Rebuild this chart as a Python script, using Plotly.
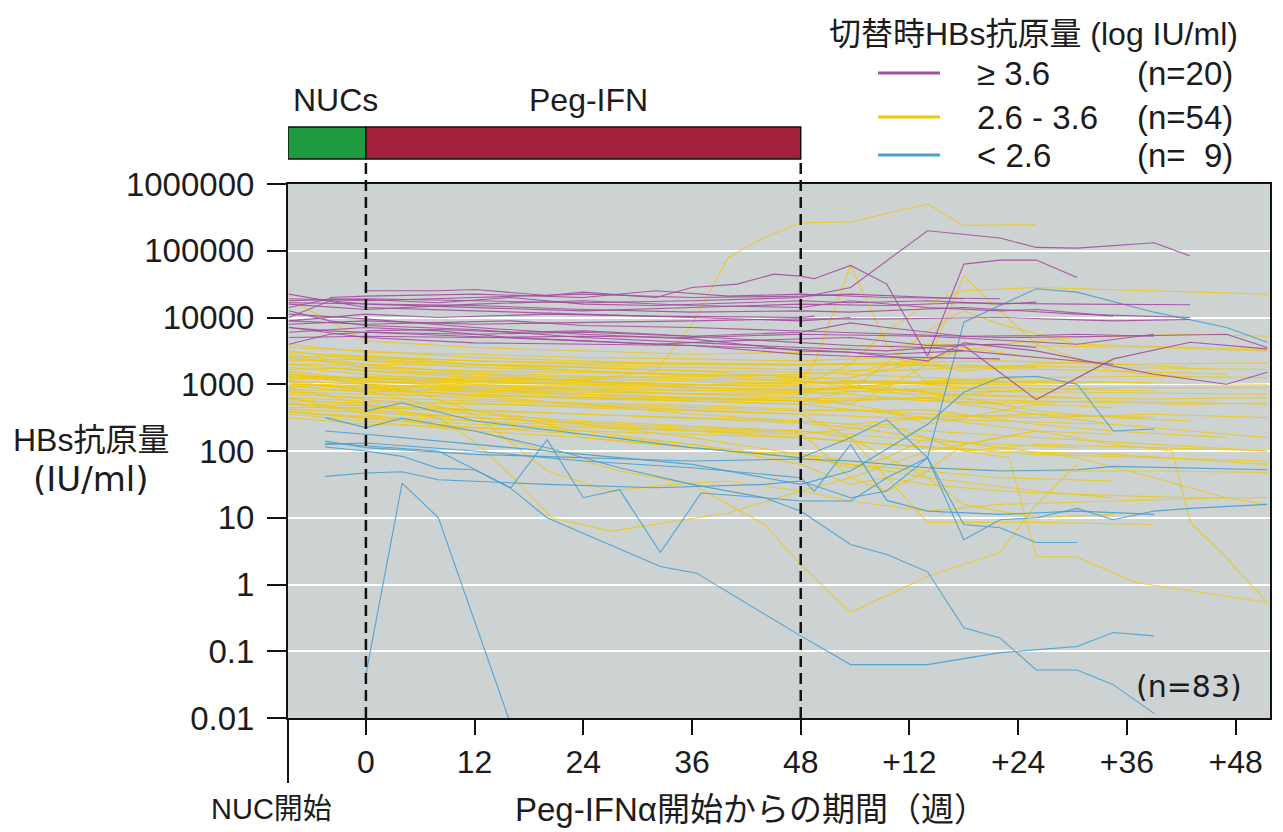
import plotly.graph_objects as go

# ---------------- data ----------------
WEEK_TICKS = [0, 12, 24, 36, 48, 60, 72, 84, 96]
WEEK_TICK_LABELS = ["0", "12", "24", "36", "48", "+12", "+24", "+36", "+48"]
Y_TICKS = [0.01, 0.1, 1, 10, 100, 1000, 10000, 100000, 1000000]
Y_TICK_LABELS = ["0.01", "0.1", "1", "10", "100", "1000", "10000", "100000", "1000000"]
GROUP_LABELS = ["≥ 3.6", "2.6 - 3.6", "< 2.6"]
GROUP_N = ["(n=20)", "(n=54)", "(n=\u00a0\u00a09)"]
PHASES = ["NUCs", "Peg-IFN"]
PHASE_WEEKS = [(-8.6, 0), (0, 48)]
TOTAL_N = "(n=83)"

# each series: (week, log10 HBsAg IU/ml) points
PURPLE = [
    [(0,4.40),(8,4.40),(12,4.42),(20,4.33),(24,4.38),(32,4.30),(36,4.45),(41,4.50),(45,4.65),(48,4.62),(49.5,4.58),(53.5,4.78),(57.5,4.50),(62,3.42),(66,4.80),(70,4.86),(74,4.86),(78.5,4.60)],
    [(-8.5,4.25),(-4,4.27),(0,4.28),(12,4.25),(24,4.22),(36,4.25),(48,4.30),(53.5,4.45),(62,5.30),(70,5.19),(74,5.05),(78.5,5.04),(87,5.12),(91,4.92)],
    [(-8.5,4.15),(-4,4.28),(0,4.27),(8,4.22),(16,4.30),(24,4.20),(32,4.18),(40,4.22),(48,4.25),(53.5,4.22),(62,4.25),(70,4.20),(74,4.23)],
    [(-8.5,4.00),(-4,4.25),(0,4.20),(12,4.15),(24,4.10),(36,4.15),(48,4.20),(57.5,4.18),(66,4.22),(78.5,4.20),(91,4.19)],
    [(-8.5,4.20),(0,4.12),(12,4.20),(24,4.25),(36,4.18),(48,4.15),(53.5,4.25),(62,4.15),(70,4.10),(74,4.12),(82.5,4.02)],
    [(-8.5,3.95),(0,4.05),(8,4.00),(20,4.05),(32,4.02),(48,4.00),(49.5,4.02)],
    [(-8.5,3.90),(0,3.95),(12,3.90),(24,3.92),(36,3.95),(48,3.98),(57.5,3.98),(70,4.00),(82.5,3.95),(91,3.97)],
    [(-8.5,3.85),(-4,3.80),(0,3.78),(12,3.75),(24,3.78),(36,3.72),(48,3.78),(53.5,3.92),(57.5,3.85),(66,3.72),(74,3.73),(78.5,3.75),(87,3.72)],
    [(-8.5,3.78),(0,3.85),(8,3.80),(16,3.70),(24,3.65),(32,3.60),(40,3.65),(48,3.68),(53.5,3.70),(62,3.58),(70,3.60),(74,3.55)],
    [(-8.5,4.10),(-4,3.95),(0,3.88),(12,3.82),(24,3.70),(36,3.62),(48,3.55),(57.5,3.50),(66,3.58),(74,2.77),(82.5,3.38),(91,3.63),(99.5,3.53)],
    [(-8.5,4.05),(0,3.98),(12,3.85),(24,3.75),(36,3.68),(48,3.50),(53.5,3.48),(62,3.35),(66,3.62),(74,3.50),(87,3.15),(95,3.00),(99.5,3.18)],
    [(-8.5,3.70),(0,3.72),(12,3.70),(24,3.72),(36,3.70),(48,3.75),(62,3.72),(78.5,3.60),(87,3.75)],
    [(-4,4.30),(0,4.32),(12,4.35),(24,4.30),(32,4.40),(40,4.32),(48,4.35),(57.5,4.30),(70,4.28)],
    [(-8.5,4.28),(0,4.25),(12,4.30),(24,4.35),(36,4.30),(48,4.32),(53.5,4.35),(66,4.28)],
    [(-8.5,3.95),(0,3.90),(16,3.95),(24,3.88),(36,3.85),(48,3.80),(57.5,3.75),(70,3.70),(82.5,3.72),(95,3.75),(99.5,3.55)],
    [(-8.5,4.35),(0,4.15),(12,4.10),(24,4.05),(36,4.00),(48,3.95),(53.5,4.00)],
    [(-8.5,3.85),(0,3.70),(12,3.62),(24,3.60),(36,3.58),(48,3.52),(57.5,3.45),(66,3.50)],
    [(0,3.80),(8,3.82),(16,3.78),(24,3.80),(32,3.75),(48,3.62),(53.5,3.58),(62,3.55),(74,3.40),(82.5,3.30)],
    [(-8.5,4.22),(0,4.20),(12,4.18),(24,4.12),(36,4.08),(48,4.10),(53.5,4.08),(66,4.15),(78.5,4.05),(91,4.00)],
    [(-8.5,3.60),(-4,3.75),(0,3.78),(12,3.72),(24,3.65),(36,3.58),(48,3.45),(53.5,3.42),(62,3.40),(70,3.38)],
]

YELLOW = [
    [(-8.5,4.28),(-4,3.95),(0,3.65),(12,3.55),(24,3.50),(36,3.45),(48,3.48),(53.5,3.55),(62,3.60),(74,3.58),(87,3.55),(99.5,3.50)],
    [(-8.5,3.55),(0,3.50),(12,3.40),(24,3.35),(36,3.30),(48,3.30),(57.5,3.32),(70,3.35),(82.5,3.30),(99.5,3.32)],
    [(-8.5,3.30),(0,3.20),(12,3.10),(24,3.05),(32,3.20),(36,3.90),(40,4.90),(44,5.20),(48,5.42),(53.5,5.43),(62,5.70),(66,5.38),(74,5.39)],
    [(-8.5,3.40),(0,3.42),(12,3.30),(24,3.25),(36,3.20),(48,3.10),(49.5,3.30),(53.5,4.78),(57.5,3.60),(62,3.00),(70,2.90)],
    [(-8.5,3.20),(0,3.05),(12,2.95),(24,2.90),(36,2.85),(48,2.80),(53.5,2.70),(57.5,2.95),(62,3.30),(66,4.62),(70,4.10),(74,3.60),(82.5,3.20),(91,3.10)],
    [(-8.5,2.95),(-4,3.00),(0,3.02),(12,3.00),(24,3.02),(36,3.00),(48,3.02),(57.5,3.05),(70,3.00),(82.5,3.02),(99.5,3.00)],
    [(-8.5,3.10),(0,3.05),(12,3.02),(24,3.00),(36,2.98),(48,3.00),(53.5,3.02),(62,3.00),(74,3.02)],
    [(-8.5,3.00),(0,2.95),(12,2.90),(24,2.85),(36,2.80),(48,2.78),(57.5,2.80),(74,2.75),(91,2.70),(99.5,2.72)],
    [(-4,3.25),(0,3.20),(12,3.15),(24,3.05),(36,2.95),(48,2.90),(53.5,2.95),(66,2.85),(78.5,2.80)],
    [(-8.5,3.45),(0,3.30),(12,3.15),(24,3.10),(36,3.12),(48,3.15),(53.5,3.18),(62,3.40),(70,3.60),(78.5,3.70),(91,3.75),(99.5,3.72)],
    [(-8.5,3.60),(0,3.48),(12,3.45),(24,3.40),(36,3.38),(48,3.35),(57.5,3.40),(66,3.20),(74,3.30),(82.5,3.35)],
    [(-8.5,2.85),(0,2.80),(12,2.75),(24,2.70),(36,2.65),(48,2.60),(53.5,2.62),(62,2.55),(74,2.50),(87,2.55),(99.5,2.50)],
    [(-8.5,2.75),(0,2.72),(12,2.70),(24,2.68),(36,2.62),(48,2.55),(57.5,2.50),(70,2.45),(82.5,2.40)],
    [(0,2.95),(12,2.82),(24,2.70),(36,2.55),(48,2.45),(53.5,2.40),(62,2.30),(74,2.20),(87,2.10),(99.5,2.00)],
    [(-8.5,3.15),(0,3.00),(6,2.85),(12,2.60),(20,2.40),(24,2.20),(32,2.10),(40,2.00),(48,1.95),(53.5,1.85),(62,1.75),(74,1.70),(87,1.70),(99.5,1.68)],
    [(-8.5,3.05),(0,2.90),(12,2.55),(20,1.70),(27,1.40),(34,1.50),(40,1.55),(48,1.40),(53.5,1.25),(62,1.10),(70,1.20),(82.5,1.25),(95,1.30)],
    [(-8.5,2.95),(0,2.70),(8,2.50),(12,2.14),(16,1.64),(20.5,1.00),(27,0.80),(40,1.07),(48,1.40),(53.5,1.60),(62,2.00),(70,2.20),(74,2.30)],
    [(-8.5,2.70),(0,2.60),(12,2.45),(24,2.30),(36,2.10),(48,1.90),(53.5,1.80),(62,1.60),(74,1.40),(82.5,1.30)],
    [(-8.5,2.80),(0,2.55),(12,2.30),(20,2.00),(28,1.70),(36,1.50),(44,0.90),(48,0.30),(53.5,-0.42),(62,0.12),(70,0.48),(74,1.20),(78.5,1.80)],
    [(-8.5,2.60),(0,2.50),(12,2.40),(24,2.35),(36,2.30),(48,2.25),(57.5,2.40),(66,2.00),(71,1.90),(74,0.42),(78.5,0.41),(85,0.03),(99.5,-0.27)],
    [(-8.5,3.02),(0,2.92),(12,2.85),(24,2.80),(36,2.75),(48,2.70),(62,2.50),(74,2.30),(82.5,2.10),(89,2.00),(91,0.93),(95,0.40),(99.5,-0.27)],
    [(-8.5,2.58),(0,2.48),(12,2.35),(24,2.25),(36,2.10),(48,1.80),(53.5,1.50),(57.5,1.60),(62,0.93),(74,0.93),(87,0.90)],
    [(-8.5,2.90),(0,2.78),(12,2.60),(24,2.40),(36,2.20),(48,1.95),(53.5,1.75),(57.5,1.90),(62,2.20),(66,2.00),(74,2.10),(87,2.05),(99.5,2.00)],
    [(-8.5,3.25),(0,3.15),(12,3.05),(24,2.98),(36,2.95),(48,2.92),(53.5,2.95),(62,2.90),(78.5,2.88),(99.5,2.85)],
    [(-8.5,3.35),(0,3.38),(12,3.30),(24,3.28),(36,3.25),(48,3.22),(57.5,3.20),(66,3.25),(82.5,3.20),(95,3.15)],
    [(-8.5,2.65),(0,2.65),(12,2.60),(24,2.55),(36,2.50),(48,2.45),(53.5,2.40),(62,2.50),(74,2.55),(87,2.50)],
    [(-4,2.55),(0,2.52),(12,2.45),(24,2.38),(36,2.30),(48,2.20),(57.5,2.10),(70,2.00),(82.5,1.95),(99.5,1.80)],
    [(-8.5,3.50),(0,3.35),(12,3.25),(24,3.20),(36,3.15),(48,3.08),(53.5,3.10),(62,3.35),(66,3.55),(74,3.40),(82.5,3.30),(91,3.25)],
    [(-8.5,3.12),(0,3.10),(12,3.00),(24,2.92),(36,2.85),(48,2.85),(57.5,2.92),(70,2.95),(87,2.90)],
    [(-8.5,2.98),(0,2.88),(12,2.78),(24,2.72),(36,2.68),(48,2.62),(53.5,2.60),(62,2.62),(74,2.40),(82.5,2.30),(95,2.20)],
    [(0,3.12),(12,3.08),(24,3.02),(36,3.00),(48,2.98),(53.5,3.30),(57.5,3.80),(62,4.20),(66,4.40),(74,4.45),(87,4.40),(99.5,4.35)],
    [(-8.5,3.05),(0,3.00),(12,2.92),(24,2.85),(36,2.80),(48,2.75),(53.5,2.90),(62,3.80),(66,4.10),(70,3.90),(78.5,3.60),(91,3.55),(99.5,3.52)],
    [(-8.5,2.88),(0,2.85),(12,2.82),(24,2.80),(36,2.78),(48,2.75),(57.5,2.78),(70,2.72),(82.5,2.75),(99.5,2.70)],
    [(-8.5,3.22),(0,3.25),(12,3.20),(24,3.18),(36,3.15),(48,3.12),(53.5,3.05),(62,3.00),(74,3.05),(87,3.02)],
    [(0,3.35),(12,3.30),(24,3.20),(36,3.12),(48,3.05),(57.5,2.95),(66,2.80),(74,2.60),(82.5,2.50),(91,2.45)],
    [(-8.5,2.70),(0,2.68),(12,2.62),(24,2.55),(36,2.48),(48,2.42),(53.5,2.35),(62,2.20),(70,2.05),(78.5,1.90),(87,1.60),(95,1.30),(99.5,1.20)],
    [(-8.5,3.00),(0,2.98),(12,2.92),(24,2.88),(36,2.86),(48,2.88),(53.5,2.95),(62,3.05),(74,3.10),(87,3.12),(99.5,3.10)],
    [(-8.5,3.15),(0,3.08),(12,3.05),(24,3.08),(36,3.05),(48,3.00),(57.5,3.02),(66,3.00)],
    [(-8.5,2.55),(0,2.45),(12,2.30),(24,2.20),(36,2.05),(48,1.90),(53.5,1.80),(62,1.70),(70,1.60),(82.5,1.55)],
    [(-4,3.45),(0,3.42),(12,3.35),(24,3.30),(36,3.30),(48,3.28),(53.5,3.30),(62,3.28),(74,3.25)],
    [(-8.5,2.80),(0,2.75),(12,2.72),(24,2.65),(36,2.60),(48,2.55),(53.5,2.20),(57.5,1.60),(62,1.50),(70,1.40),(78.5,1.35),(91,1.30),(99.5,1.30)],
    [(-8.5,2.92),(0,2.90),(12,2.85),(24,2.78),(36,2.75),(48,2.70),(53.5,2.75),(62,2.80),(70,2.90),(82.5,2.95),(99.5,2.95)],
    [(-8.5,3.08),(0,3.10),(12,3.05),(24,3.00),(36,3.00),(48,3.02),(53.5,3.05),(66,3.00),(78.5,2.98)],
    [(-8.5,3.30),(0,3.28),(12,3.18),(24,3.12),(36,3.08),(48,3.05),(57.5,2.90),(66,2.70),(74,2.55),(82.5,2.40),(91,2.30),(99.5,2.20)],
    [(-8.5,2.62),(0,2.58),(12,2.50),(24,2.42),(36,2.35),(48,2.30),(53.5,2.25),(62,2.15),(70,2.10),(78.5,2.05)],
    [(0,2.95),(12,2.88),(24,2.82),(36,2.78),(48,2.75),(53.5,2.70),(57.5,2.60),(62,2.40),(66,2.50),(74,2.70),(82.5,2.65)],
    [(-8.5,3.42),(0,3.25),(12,3.12),(24,3.05),(36,3.00),(48,2.95),(53.5,2.90),(62,2.85),(74,2.80),(87,2.78),(99.5,2.80)],
    [(-8.5,3.18),(0,3.00),(12,2.95),(24,2.92),(36,2.90),(48,2.92),(57.5,3.00),(66,3.05),(78.5,3.02)],
    [(-8.5,2.50),(0,2.40),(12,2.35),(24,2.30),(36,2.25),(48,2.20),(53.5,2.15),(62,2.05),(74,1.95),(87,1.90),(99.5,1.85)],
    [(-8.5,3.38),(0,3.30),(12,3.28),(24,3.25),(36,3.20),(48,3.18),(53.5,3.15),(62,3.10),(70,3.05)],
    [(-8.5,2.78),(0,2.68),(12,2.55),(24,2.45),(36,2.38),(48,2.30),(53.5,2.20),(57.5,1.90),(62,1.60),(66,1.20),(74,1.00),(82.5,1.05)],
    [(0,3.05),(12,2.98),(24,2.95),(36,2.92),(48,2.88),(53.5,2.85),(62,2.75),(70,2.70)],
    [(-8.5,3.48),(0,3.40),(12,3.35),(24,3.32),(36,3.32),(48,3.30),(57.5,3.30),(70,3.28),(82.5,3.25),(99.5,3.22)],
    [(-8.5,2.72),(0,2.62),(12,2.50),(24,2.40),(36,2.32),(48,2.28),(53.5,1.60),(57.5,1.40),(62,1.70),(66,2.10),(74,2.30),(82.5,2.25)],
]

BLUE = [
    [(0,-1.35),(4,1.52),(8,1.00),(16,-2.10)],
    [(-4.5,2.06),(0,2.00),(4,1.92),(8,1.74),(12,1.72),(16,1.44),(20,1.00),(32.5,0.27),(36.5,0.17),(48,-0.77),(53.5,-1.20),(62,-1.20),(70,-1.02),(78.5,-0.93),(82.5,-0.72),(87,-0.77)],
    [(-4.5,2.50),(0,2.35),(4,2.49),(12,2.30),(20,2.05),(28,1.75),(36,1.50),(44,1.30),(48,1.10),(53.5,0.60),(57.5,0.45),(62,0.19),(66,-0.65),(70,-0.80),(74,-1.28),(78.5,-1.28),(82.5,-1.50),(87,-1.93)],
    [(-4.5,2.12),(0,2.08),(8,2.00),(16,1.45),(20,2.17),(24,1.30),(28,1.42),(32.5,0.48),(37,1.37),(44,1.30),(48,1.25),(53.5,1.25),(57.5,1.60),(62,1.90),(66,0.67),(70,0.97),(74,1.00),(78.5,1.14),(82.5,0.97),(87,1.10),(91,1.14),(99.5,1.20)],
    [(-4.5,1.62),(0,1.67),(4,1.69),(8,1.57),(20,1.50),(32,1.45),(44,1.50),(48,1.55),(53.5,1.30),(57.5,1.40),(62,1.90),(66,3.93),(74,4.43),(78.5,4.38),(87,4.08),(95,3.85),(99.5,3.63)],
    [(-4.5,2.15),(0,2.05),(12,1.95),(24,1.90),(36,1.85),(48,1.88),(53.5,1.85),(62,1.75),(70,1.70),(78.5,1.72),(82.5,1.77),(99.5,1.72)],
    [(0,2.60),(4,2.72),(12,2.45),(24,2.25),(36,2.05),(48,1.90),(53.5,2.20),(57.5,2.47),(62,1.90),(66,0.90),(70,0.85),(74,0.63),(78.5,0.63)],
    [(-4.5,2.30),(0,2.25),(12,2.10),(24,1.95),(36,1.80),(48,1.50),(53.5,1.70),(62,2.40),(66,2.88),(70,3.10),(74,3.12),(78.5,3.00),(82.5,2.30),(87,2.33)],
    [(-4.5,2.10),(0,2.12),(12,2.00),(24,1.85),(36,1.75),(48,1.60),(49.5,1.40),(53.5,2.10),(57.5,1.26),(62,1.10),(70,1.05),(78.5,1.10),(87,1.05)],
]

# ---------------- style ----------------
COLORS = ["#a24f9e", "#f0c800", "#4aa0d0"]
W, H = 1283, 832
L, R, T, B = 288, 13, 184, 114
PW, PH = W - L - R, H - T - B
FONT = "Arial, 'Liberation Sans', 'Noto Sans CJK JP', sans-serif"
VFONT = "'DejaVu Sans', Verdana, sans-serif"
TXT = "#1c1c1c"


def px(x):
    return (x - L) / PW


def py(y):
    return (H - B - y) / PH


fig = go.Figure()

for series_list, color, op, wd in [(YELLOW, COLORS[1], 0.75, 1.1), (BLUE, COLORS[2], 0.9, 1.1), (PURPLE, COLORS[0], 0.9, 1.1)]:
    for s in series_list:
        fig.add_trace(go.Scatter(
            x=[p[0] for p in s], y=[10 ** p[1] for p in s],
            mode="lines", line=dict(color=color, width=wd),
            opacity=op, showlegend=False, hoverinfo="skip", cliponaxis=True,
        ))

shapes = []
bar_colors = ["#1f9a40", "#a3203c"]
for (x0, x1), c in zip(PHASE_WEEKS, bar_colors):
    shapes.append(dict(type="rect", xref="x", yref="paper", x0=x0, x1=x1,
                       y0=py(159), y1=py(127), fillcolor=c,
                       line=dict(color="#111", width=1.5), layer="above"))
for wk in [0, 48]:
    shapes.append(dict(type="line", xref="x", yref="paper", x0=wk, x1=wk,
                       y0=0, y1=py(159), line=dict(color="#111", width=2.5, dash="11px,6px"),
                       layer="above"))
shapes.append(dict(type="line", xref="paper", yref="paper", x0=0, x1=0,
                   y0=0, y1=py(783), line=dict(color="#111", width=2)))
for i, yy in enumerate([73, 117, 155]):
    shapes.append(dict(type="line", xref="paper", yref="paper", x0=px(878), x1=px(940),
                       y0=py(yy), y1=py(yy), line=dict(color=COLORS[i], width=3)))

ann = []


def add_text(text, x, y, size, xanchor="center", family=FONT):
    ann.append(dict(text=text, x=px(x), y=py(y), xref="paper", yref="paper",
                    xanchor=xanchor, yanchor="middle", showarrow=False,
                    font=dict(size=size, color=TXT, family=family)))


add_text("切替時HBs抗原量 (log IU/ml)", 1033, 34, 32)
for i, yy in enumerate([73, 117, 155]):
    add_text(GROUP_LABELS[i], 975, yy, 33, xanchor="left")
    add_text(GROUP_N[i], 1135, yy, 33, xanchor="left")
add_text(PHASES[0], 335, 100, 32)
add_text(PHASES[1], 588, 100, 32)
add_text("HBs抗原量", 91, 440, 32)
add_text("(IU/ml)", 90, 479, 34, family=VFONT)
add_text("NUC開始", 271, 809, 29)
add_text("Peg-IFNα開始からの期間（週）", 751, 809, 33)
add_text(TOTAL_N, 1189, 686, 30, family=VFONT)

fig.update_layout(
    width=W, height=H,
    margin=dict(l=L, r=R, t=T, b=B, pad=0),
    paper_bgcolor="white", plot_bgcolor="#cdd2d3",
    shapes=shapes, annotations=ann, showlegend=False,
    font=dict(family=FONT, color=TXT),
)
fig.update_xaxes(
    range=[-8.6, 99.8], tickmode="array", tickvals=WEEK_TICKS, ticktext=WEEK_TICK_LABELS,
    showgrid=False, zeroline=False, showline=True, linecolor="#111", linewidth=2, mirror=True,
    ticks="outside", ticklen=15, tickwidth=2, tickcolor="#111",
    tickfont=dict(size=32, family=FONT, color=TXT),
)
fig.update_yaxes(
    type="log", range=[-2, 6], tickmode="array", tickvals=Y_TICKS, ticktext=Y_TICK_LABELS,
    showgrid=True, gridcolor="white", gridwidth=1.5, zeroline=False,
    showline=True, linecolor="#111", linewidth=2, mirror=True,
    ticks="outside", ticklen=19, tickwidth=2, tickcolor="#111", ticklabelstandoff=6,
    tickfont=dict(size=33, family=FONT, color=TXT),
)

fig.write_html("out.html")
